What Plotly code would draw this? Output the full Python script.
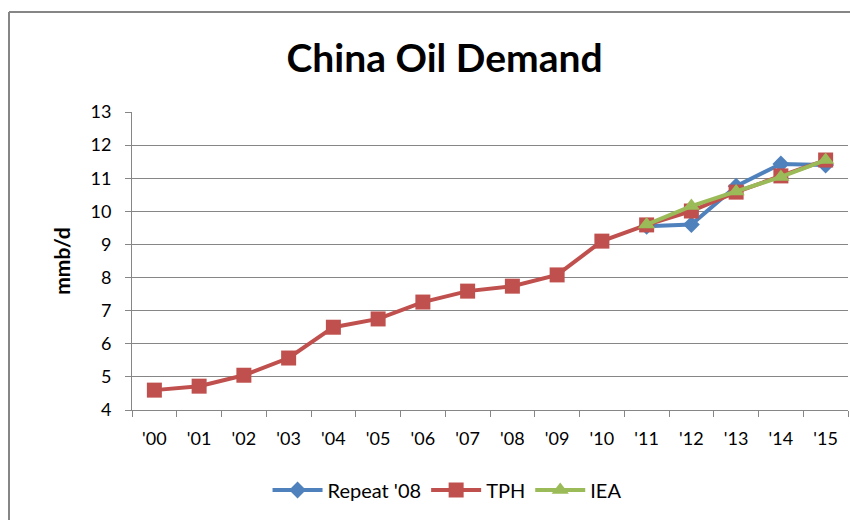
import plotly.graph_objects as go

years = ["'00", "'01", "'02", "'03", "'04", "'05", "'06", "'07",
         "'08", "'09", "'10", "'11", "'12", "'13", "'14", "'15"]

tph = [4.60, 4.72, 5.05, 5.57, 6.50, 6.75, 7.26, 7.59,
       7.74, 8.08, 9.10, 9.59, 10.01, 10.58, 11.07, 11.55]

repeat_years = ["'11", "'12", "'13", "'14", "'15"]
repeat_08 = [9.55, 9.60, 10.76, 11.43, 11.40]

iea_years = ["'11", "'12", "'13", "'14", "'15"]
iea = [9.60, 10.16, 10.60, 11.04, 11.55]

FONT = "Lato, 'Open Sans', sans-serif"

fig = go.Figure()
fig.add_trace(go.Scatter(
    x=repeat_years, y=repeat_08, name="Repeat '08", mode="lines+markers",
    line=dict(color="#4F81BD", width=4),
    marker=dict(symbol="diamond", size=13, color="#4F81BD")))
fig.add_trace(go.Scatter(
    x=years, y=tph, name="TPH", mode="lines+markers",
    line=dict(color="#C0504D", width=4),
    marker=dict(symbol="square", size=15, color="#C0504D")))
fig.add_trace(go.Scatter(
    x=iea_years, y=iea, name="IEA", mode="lines+markers",
    line=dict(color="#9BBB59", width=4),
    marker=dict(symbol="triangle-up", size=15, color="#9BBB59")))

L, R, T, B = 132, 2, 112, 110
W, H = 850, 520
pw, ph = W - L - R, H - T - B

fig.update_layout(
    width=W, height=H,
    margin=dict(l=L, r=R, t=T, b=B),
    paper_bgcolor="white", plot_bgcolor="white",
    font=dict(family=FONT, size=18, color="black"),
    title=dict(text="<b>China Oil Demand</b>", x=0.523, xanchor="center",
               y=1 - 58 / H, yanchor="middle",
               font=dict(family=FONT, size=39, color="black")),
    xaxis=dict(type="category", categoryorder="array", categoryarray=years,
               range=[-0.5, len(years) - 0.5],
               showgrid=False, showline=True, linecolor="#868686", linewidth=1,
               ticks="outside", tickson="boundaries", ticklen=6,
               tickcolor="#868686", tickfont=dict(size=18),
               ticklabelstandoff=12),
    yaxis=dict(range=[4, 13], dtick=1, showgrid=True, gridcolor="#868686",
               gridwidth=1, showline=True, linecolor="#868686",
               ticks="outside", ticklen=6, tickcolor="#868686",
               tickfont=dict(size=18), zeroline=False, ticklabelstandoff=10,
               title=dict(text="<b>mmb/d</b>", font=dict(size=21), standoff=14)),
    legend=dict(orientation="h", x=0.44, xanchor="center",
                y=-(490 - 410) / ph, yanchor="middle", font=dict(size=20),
                itemwidth=50, traceorder="normal"),
    showlegend=True,
)

# chart border (top and left edges)
bx0 = (9 - L) / pw
by1 = 1 + (T - 12) / ph
fig.add_shape(type="line", xref="paper", yref="paper",
              x0=bx0, x1=1 + R / pw + 0.01, y0=by1, y1=by1,
              line=dict(color="#868686", width=2))
fig.add_shape(type="line", xref="paper", yref="paper",
              x0=bx0, x1=bx0, y0=by1, y1=-B / ph - 0.01,
              line=dict(color="#868686", width=2))

fig.write_html("out.html")
